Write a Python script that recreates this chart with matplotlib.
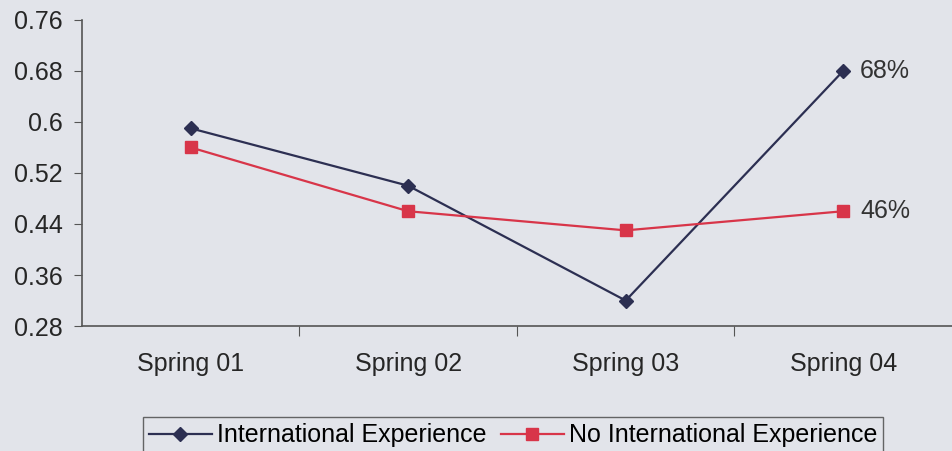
import matplotlib.pyplot as plt

# -----------------------------
# DATA
# -----------------------------

terms = ["Spring 01", "Spring 02", "Spring 03", "Spring 04"]

intl = [0.59, 0.50, 0.32, 0.68]
no_intl = [0.56, 0.46, 0.43, 0.46]

yticks = [0.28, 0.36, 0.44, 0.52, 0.6, 0.68, 0.76]
ytick_labels = ["0.28", "0.36", "0.44", "0.52", "0.6", "0.68", "0.76"]

# -----------------------------
# CHART
# -----------------------------

plt.rcParams["font.family"] = ["Liberation Sans", "DejaVu Sans"]

bg = "#e2e4ea"
navy = "#2c2f52"
red = "#d83549"
grey = "#555555"
txt = "#262626"
fs = 18

fig = plt.figure(figsize=(9.52, 4.51), dpi=100, facecolor=bg)
ax = fig.add_axes([0.086, 0.277, 0.914, 0.679])
ax.set_facecolor(bg)

x = list(range(len(terms)))

ax.plot(x, intl, color=navy, lw=1.6, marker="D", ms=7,
        label="International Experience")
ax.plot(x, no_intl, color=red, lw=1.6, marker="s", ms=8,
        label="No International Experience")

# end labels
ax.annotate(f"{intl[-1]*100:.0f}%", (x[-1], intl[-1]), xytext=(12, 0),
            textcoords="offset points", va="center", fontsize=fs, color="#333333")
ax.annotate(f"{no_intl[-1]*100:.0f}%", (x[-1], no_intl[-1]), xytext=(12, 0),
            textcoords="offset points", va="center", fontsize=fs, color="#333333")

ax.set_xlim(-0.5, 3.5)
ax.set_ylim(0.28, 0.76)
ax.set_yticks(yticks)
ax.set_yticklabels(ytick_labels)

# category ticks between groups
ax.set_xticks([i + 0.5 for i in x[:-1]], minor=False)
ax.set_xticklabels([])
ax.set_xticks(x, minor=True)
ax.set_xticklabels(terms, minor=True)
ax.tick_params(axis="x", which="minor", length=0, pad=19, labelsize=fs,
               labelcolor=txt)
ax.tick_params(axis="x", which="major", length=7, direction="out", color=grey)
ax.tick_params(axis="y", length=6, direction="out", color=grey, labelsize=fs,
               labelcolor=txt, pad=8)

for side in ["top", "right"]:
    ax.spines[side].set_visible(False)
for side in ["left", "bottom"]:
    ax.spines[side].set_color(grey)
    ax.spines[side].set_linewidth(1.2)

leg = fig.legend(loc="upper center", bbox_to_anchor=(0.539, 0.075), ncol=2,
                 fontsize=fs, frameon=True, fancybox=False, handlelength=2.5,
                 columnspacing=0.6, handletextpad=0.2, borderpad=0.25,
                 borderaxespad=0)
leg.get_frame().set_edgecolor("#444444")
leg.get_frame().set_facecolor(bg)
leg.get_frame().set_linewidth(1.0)

plt.savefig("out.png", dpi=100, facecolor=bg)
